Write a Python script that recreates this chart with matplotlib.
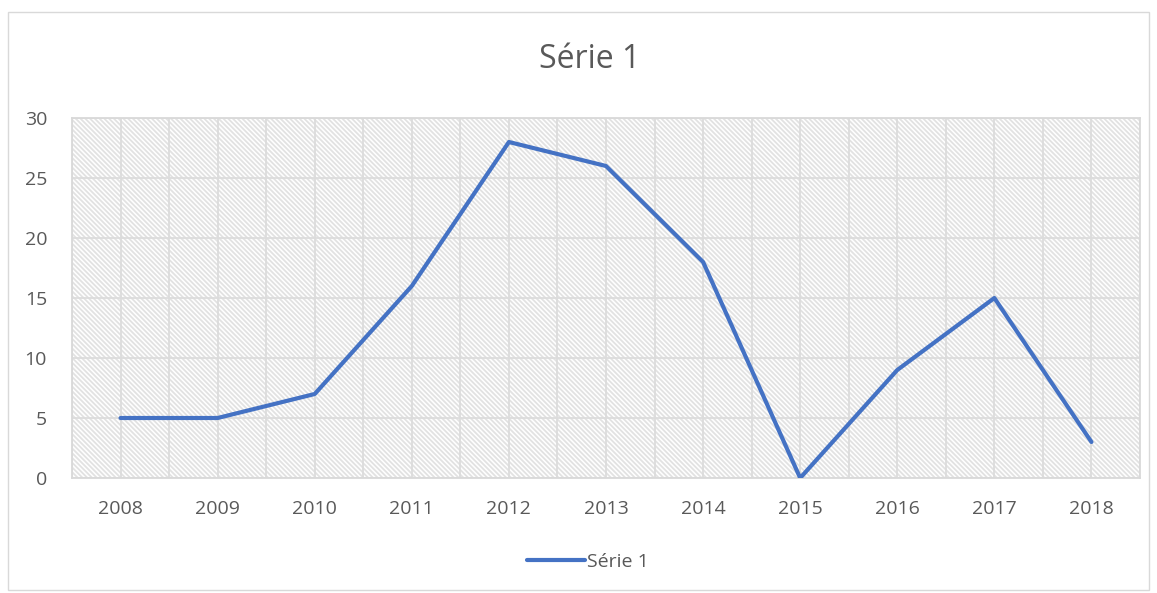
import numpy as np
import matplotlib.pyplot as plt
from matplotlib.patches import Rectangle

# ===== Data =====
years = ['2008', '2009', '2010', '2011', '2012', '2013', '2014', '2015', '2016', '2017', '2018']
serie1 = [5, 5, 7, 16, 28, 26, 18, 0, 9, 15, 3]

plt.rcParams['font.family'] = ['Open Sans', 'DejaVu Sans']
plt.rcParams['hatch.color'] = '#e2e2e2'
plt.rcParams['hatch.linewidth'] = 1.3

fig = plt.figure(figsize=(11.57, 5.93), dpi=100)
fig.patches.append(Rectangle((8/1157, 3/593), 1-16/1157, 1-15/593, transform=fig.transFigure,
                             fill=False, edgecolor='#d9d9d9', lw=1))
ax = fig.add_axes([72/1157, 1-478/593, (1140-72)/1157, (478-118)/593])

# hatched background
ax.add_patch(Rectangle((0, 0), 1, 1, transform=ax.transAxes, facecolor='white',
                       hatch='\\' * 7, lw=0, zorder=0))

x = np.arange(len(years))
ax.plot(x, serie1, color='#4472C4', lw=3.0, solid_capstyle='round', zorder=3, label='Série 1')

ax.set_xlim(-0.5, len(years) - 0.5)
ax.set_ylim(0, 30)
ax.set_yticks(range(0, 31, 5))
ax.set_xticks(x)
ax.set_xticklabels(years)
ax.set_xticks(np.arange(-0.5, len(years), 1.0), minor=True)
ax.grid(True, which='both', axis='x', color='#dcdcdc', lw=1.3, zorder=1)
ax.grid(True, which='major', axis='y', color='#dcdcdc', lw=1.3, zorder=1)
ax.set_axisbelow(True)
ax.tick_params(which='both', length=0, labelsize=14, colors='#595959')
ax.tick_params(axis='x', pad=16)
ax.tick_params(axis='y', pad=18)
for s in ax.spines.values():
    s.set_color('#d9d9d9')
    s.set_linewidth(1.3)

fig.text(0.51, 1-60/593, 'Série 1', ha='center', va='center', fontsize=23, color='#595959')
fig.legend(loc='center', bbox_to_anchor=(0.508, 1-562/593), frameon=False, fontsize=14,
           handlelength=3.0, handletextpad=0.1, labelcolor='#595959')

fig.savefig('out.png', dpi=100)
